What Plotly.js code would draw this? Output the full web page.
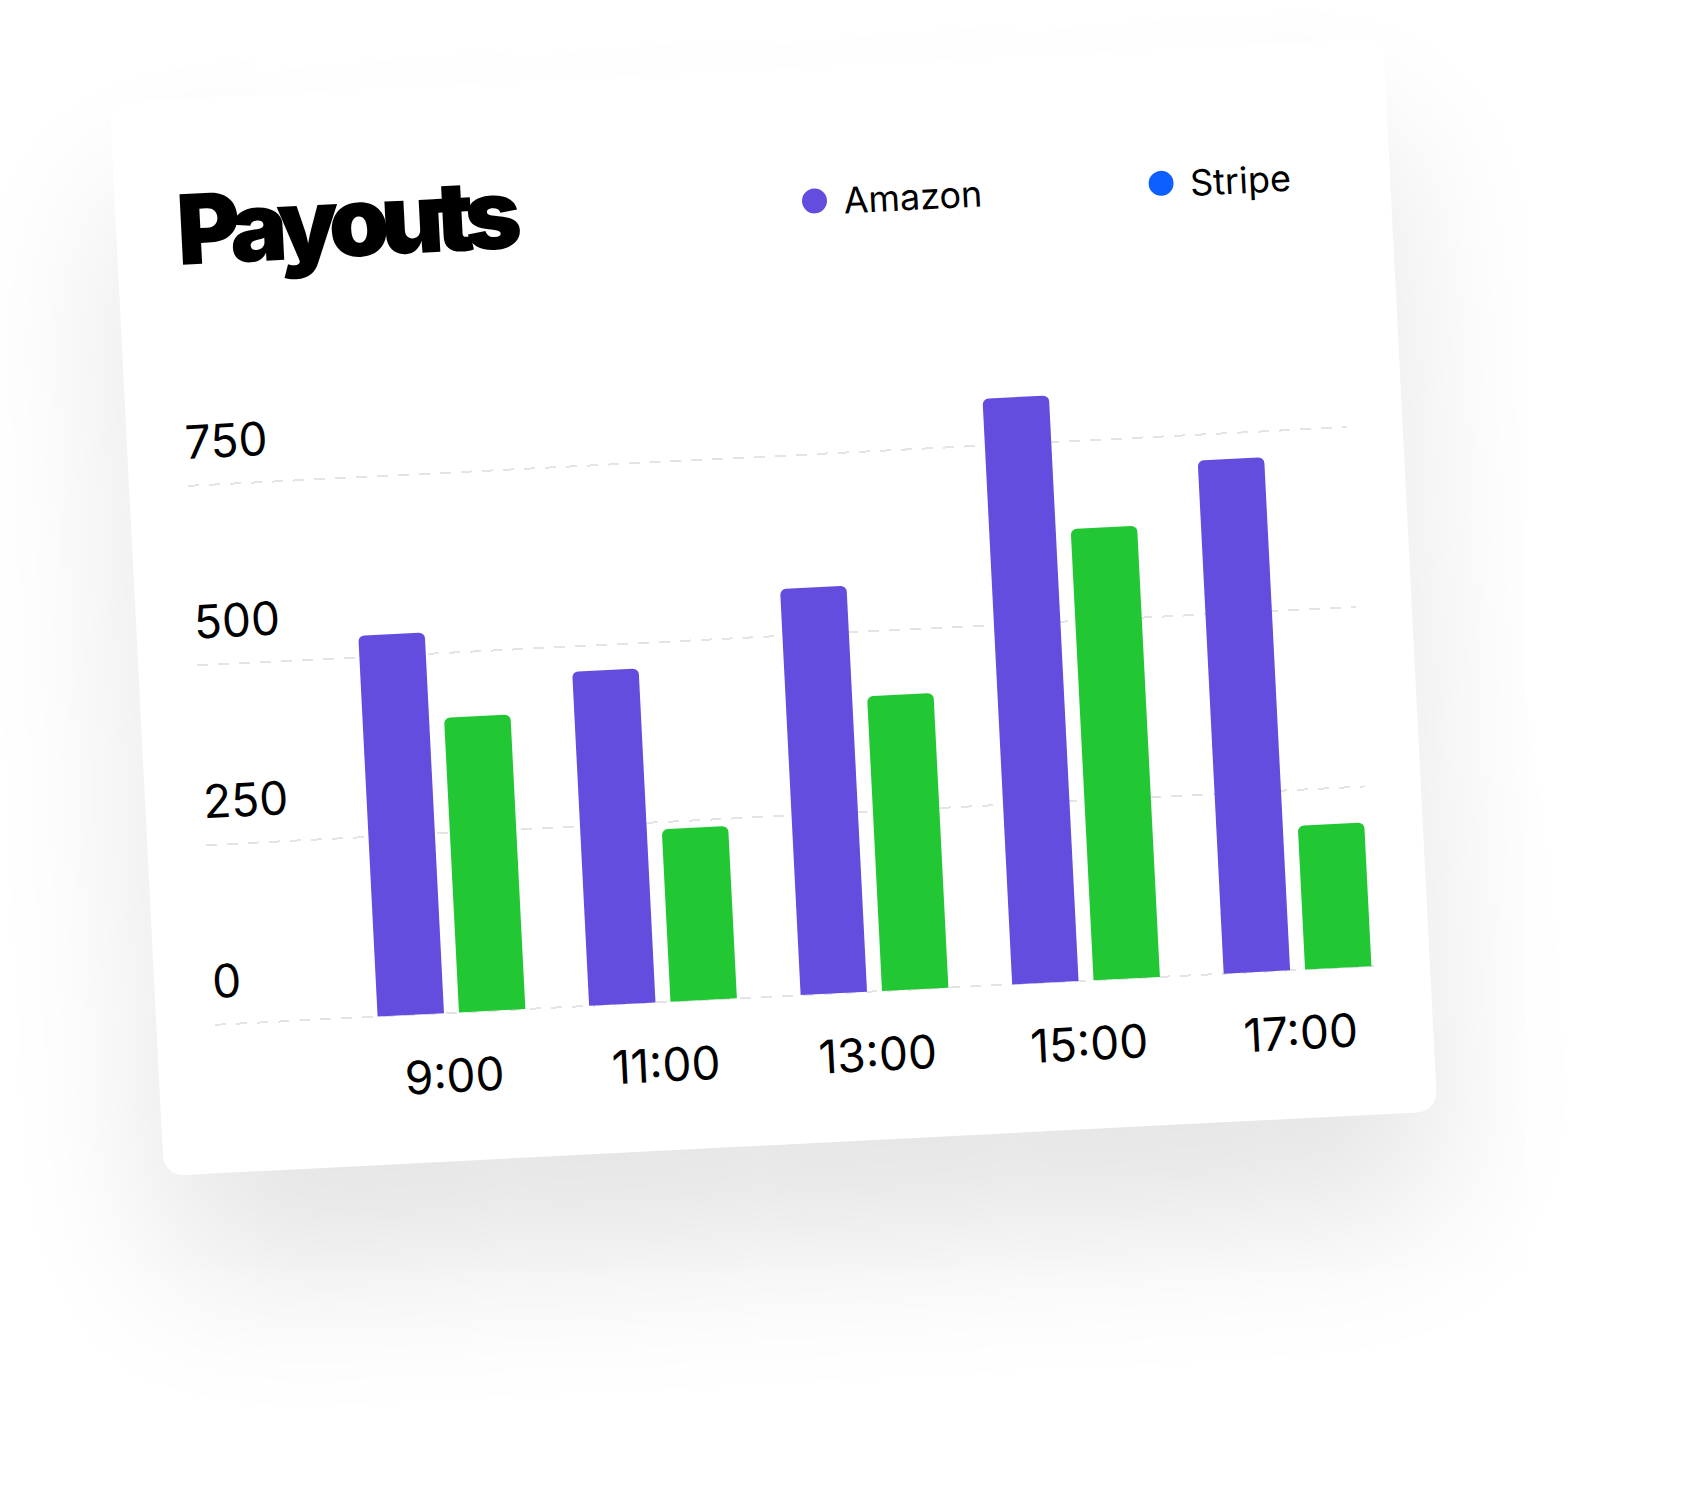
<!DOCTYPE html>
<html>
<head>
<meta charset="utf-8">
<script src="https://cdn.plot.ly/plotly-3.0.1.min.js"></script>
<style>
  html, body { margin: 0; padding: 0; background: #ffffff; width: 1684px; height: 1496px; overflow: hidden; }
  #card {
    position: absolute; left: 164px; top: 101px; width: 1275px; height: 1075px;
    background: #ffffff; border-radius: 20px;
    transform-origin: 0 100%; transform: rotate(-2.9deg);
    box-shadow: 0 100px 160px rgba(0,0,0,0.11);
  }
  #chart { width: 1275px; height: 1075px; }
  .gtitle { letter-spacing: -8.5px; }
  g.legendpoints path.scatterpts { transform: translate(29px, 0px) scale(2.08); }
</style>
</head>
<body>
<div id="card"><div id="chart"></div></div>
<script>
// ---- data ----
const hours = ['9:00', '11:00', '13:00', '15:00', '17:00'];
const amazon = [530, 465, 565, 815, 714];
const stripe = [410, 240, 410, 628, 200];
const yTickValues = [0, 250, 500, 750];
const seriesNames = ['Amazon', 'Stripe'];
const chartTitle = 'Payouts';

// ---- styles ----
const PURPLE = '#624DDE';
const GREEN = '#22C834';
const BLUE = '#0D5FFF';
const FONT = 'Inter, "Noto Sans", sans-serif';

const traces = [
  { type: 'bar', x: hours, y: amazon, name: seriesNames[0], showlegend: false,
    marker: { color: PURPLE, cornerradius: 6, line: { width: 0 } } },
  { type: 'bar', x: hours, y: stripe, name: seriesNames[1], showlegend: false,
    marker: { color: GREEN, cornerradius: 6, line: { width: 0 } } },
  { type: 'scatter', mode: 'markers', x: [null], y: [null], name: seriesNames[0],
    marker: { color: PURPLE, size: 12 }, showlegend: true },
  { type: 'scatter', mode: 'markers', x: [null], y: [null], name: seriesNames[1],
    marker: { color: BLUE, size: 12 }, showlegend: true }
];

const layout = {
  width: 1275, height: 1075,
  margin: { l: 58.7, r: 56, t: 314.7, b: 146.6, pad: 0 },
  paper_bgcolor: 'rgba(0,0,0,0)', plot_bgcolor: 'rgba(0,0,0,0)',
  font: { family: FONT, color: '#000000' },
  title: {
    text: chartTitle, xref: 'container', yref: 'container',
    x: 0.0475, xanchor: 'left', y: 0.8456, yanchor: 'bottom',
    pad: { t: 0, b: 0, l: 0, r: 0 },
    font: { family: FONT, size: 97, weight: 900, color: '#000000' }
  },
  barmode: 'group', bargap: 0.2306, bargroupgap: 0.184,
  xaxis: {
    type: 'category', range: [-1.116, 4.361], fixedrange: true,
    showgrid: false, zeroline: false, showline: false, ticks: '',
    tickfont: { family: FONT, size: 46, color: '#000000' },
    ticklabelstandoff: 31
  },
  yaxis: {
    range: [-2, 850], fixedrange: true,
    tickvals: yTickValues, ticktext: yTickValues.map(String),
    showgrid: true, gridcolor: '#e4e4e4', gridwidth: 2, griddash: '11px,10px',
    zeroline: false, showline: false, ticks: '',
    ticklabelposition: 'inside', ticklabelshift: -43, ticklabelstandoff: -4,
    tickfont: { family: FONT, size: 46, color: '#000000' }
  },
  showlegend: true,
  legend: {
    orientation: 'h', xref: 'container', yref: 'container',
    x: 0.5255, xanchor: 'left', y: 0.8752, yanchor: 'middle',
    itemwidth: 48, itemsizing: 'constant', entrywidth: 284,
    bgcolor: 'rgba(0,0,0,0)', borderwidth: 0,
    font: { family: FONT, size: 36, color: '#000000' }
  }
};

Plotly.newPlot('chart', traces, layout, { staticPlot: true, displayModeBar: false });
</script>
</body>
</html>
